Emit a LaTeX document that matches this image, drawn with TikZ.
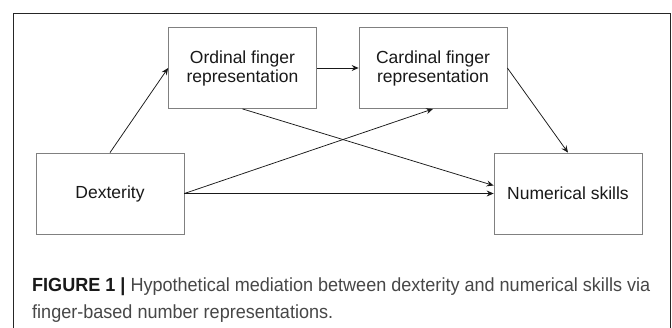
\documentclass[tikz,border=0pt]{standalone}
\usepackage{fontspec}
\setmainfont{Liberation Sans}
\usetikzlibrary{arrows.meta}
\tikzset{
  varbox/.style={draw=black!50, line width=0.8pt, minimum width=148pt, minimum height=81pt,
    align=center, inner sep=0pt, font=\fontsize{17.5}{19}\selectfont, text=black!90},
  link/.style={-{Stealth[length=7pt,width=6pt,inset=2.5pt]}, line width=0.75pt, black!90},
  captext/.style={anchor=base west, inner sep=0pt, font=\fontsize{19}{22}\selectfont, text=black!72}
}
\begin{document}
\begin{tikzpicture}[x=1pt,y=-1pt]
  \useasboundingbox (0,0) rectangle (672,327);
  \fill[white] (0,0) rectangle (672,327);
  \draw[line width=0.9pt, black!85] (13,340) -- (13,13) -- (670,13) -- (670,340);
%
       \node [varbox] at (242.5,68) (ord) {Ordinal finger\\representation};
       \node [varbox] at (433,68) (card) {Cardinal finger\\representation};
       \node [varbox] at (110,193.5) (dex) {Dexterity};
       \node [varbox] at (568,193.5) (num) {Numerical skills};
%
       \node [captext] at (32,291) (cap1) {\scalebox{0.95}[1]{{\color{black!90}\textbf{FIGURE 1 |}} Hypothetical mediation between dexterity and numerical skills via}};
       \node [captext] at (32,318) (cap2) {\scalebox{0.95}[1]{finger-based number representations.}};
%
\path[link] (dex.north) edge (ord.west);
\path[link] (ord.east) edge (card.west);
\path[link] (ord.south) edge ([yshift=8pt]num.west);
\path[link] (dex.east) edge (card.south);
\path[link] (dex.east) edge (num.west);
\path[link] (card.east) edge (num.north);
\end{tikzpicture}
\end{document}
